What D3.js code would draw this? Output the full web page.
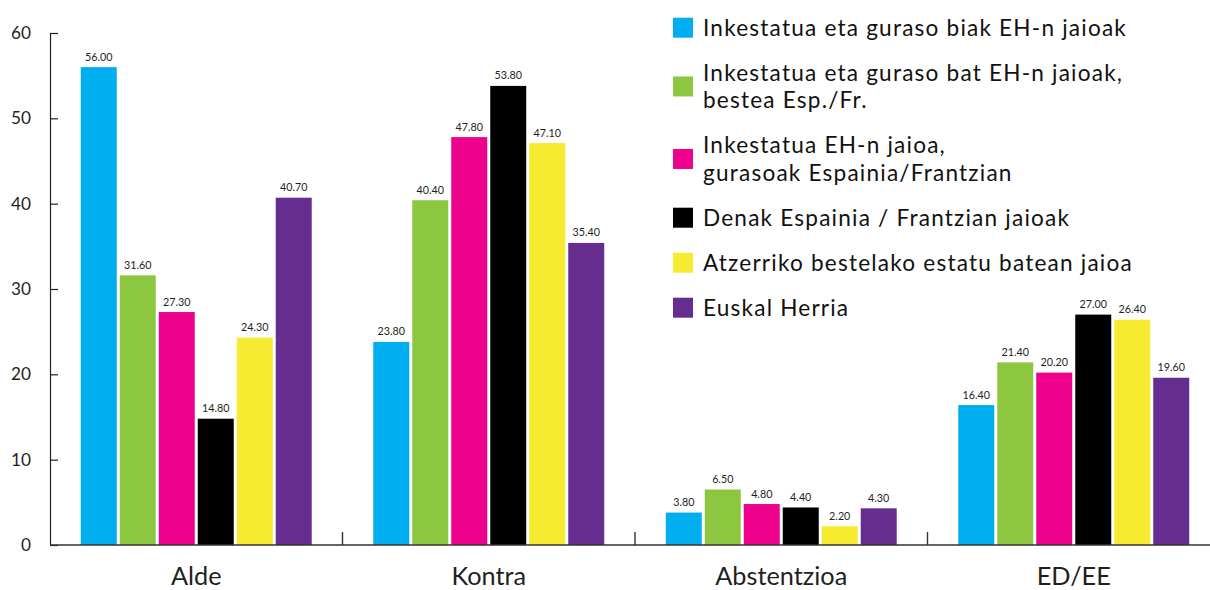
<!DOCTYPE html>
<html>
<head>
<meta charset="utf-8">
<script src="https://cdn.jsdelivr.net/npm/d3@7"></script>
<style>
  html, body { margin: 0; padding: 0; background: #ffffff; }
  svg { display: block; font-family: Lato, "Noto Sans", sans-serif; }
</style>
</head>
<body>
<svg id="chart" width="1210" height="590"></svg>
<script>
// ---- data ----
const categories = ["Alde", "Kontra", "Abstentzioa", "ED/EE"];
const seriesNames = [
  "Inkestatua eta guraso biak EH-n jaioak",
  "Inkestatua eta guraso bat EH-n jaioak,\nbestea Esp./Fr.",
  "Inkestatua EH-n jaioa,\ngurasoak Espainia/Frantzian",
  "Denak Espainia / Frantzian jaioak",
  "Atzerriko bestelako estatu batean jaioa",
  "Euskal Herria"
];
const seriesColors = ["#00aeef", "#8dc63f", "#ec008c", "#000000", "#f6eb31", "#662d91"];
const valsBiakEH     = [56.0, 23.8, 3.8, 16.4];
const valsBatEH      = [31.6, 40.4, 6.5, 21.4];
const valsInkEH      = [27.3, 47.8, 4.8, 20.2];
const valsDenakEsp   = [14.8, 53.8, 4.4, 27.0];
const valsAtzerri    = [24.3, 47.1, 2.2, 26.4];
const valsEuskalH    = [40.7, 35.4, 4.3, 19.6];
const seriesValues = [valsBiakEH, valsBatEH, valsInkEH, valsDenakEsp, valsAtzerri, valsEuskalH];
const yTicks = [0, 10, 20, 30, 40, 50, 60];

// ---- layout ----
const svg = d3.select("#chart");
const textColor = "#231f20";
const plotLeft = 50, plotRight = 1220, plotBottom = 545, plotTop = 33;

const y = d3.scaleLinear().domain([0, 60]).range([plotBottom, plotTop]);
const x0 = d3.scaleBand().domain(categories).range([plotLeft, plotRight]).padding(0);
const groupW = x0.bandwidth();
const x1 = d3.scaleBand().domain(d3.range(seriesNames.length))
  .range([groupW * 0.1052, groupW * 0.8948]).paddingInner(0.077).paddingOuter(0);

// font fitting helpers
function measure(str, size) {
  const t = svg.append("text").attr("font-size", size).text(str);
  const w = t.node().getComputedTextLength();
  t.remove();
  return w;
}
function fitSize(str, targetWidth, base) {
  return base * targetWidth / measure(str, base);
}
const valueFont = fitSize("53.80", 27.5, 11);
const tickFont = fitSize("60", 20, 18);
const catFont = fitSize("Abstentzioa", 132, 22);
const legFont = 22.6;
const legRefW = measure(seriesNames[0], legFont);
const legSpacing = Math.max(0, (424 - legRefW) / seriesNames[0].length);

// bars
const groups = svg.append("g").selectAll("g").data(categories).join("g")
  .attr("transform", d => `translate(${x0(d)},0)`);

groups.each(function(cat, ci) {
  const g = d3.select(this);
  const items = seriesValues.map((vals, si) => ({ si, v: vals[ci] }));
  g.selectAll("rect").data(items).join("rect")
    .attr("x", d => x1(d.si))
    .attr("width", x1.bandwidth())
    .attr("y", d => y(d.v))
    .attr("height", d => y(0) - y(d.v))
    .attr("fill", d => seriesColors[d.si]);
  g.selectAll("text.val").data(items).join("text")
    .attr("class", "val")
    .attr("x", d => x1(d.si) + x1.bandwidth() / 2)
    .attr("y", d => y(d.v) - 6.5)
    .attr("text-anchor", "middle")
    .attr("font-size", valueFont)
    .attr("fill", textColor)
    .text(d => d.v.toFixed(2));
});

// y axis
const yAxis = d3.axisLeft(y).tickValues(yTicks).tickSize(-8).tickPadding(0).tickSizeOuter(0);
const yg = svg.append("g").attr("transform", `translate(${plotLeft},0)`).call(yAxis);
yg.select(".domain").attr("stroke", textColor).attr("stroke-width", 1.2);
yg.selectAll(".tick line").attr("stroke", textColor).attr("stroke-width", 1.2);
yg.selectAll(".tick text")
  .attr("x", -19)
  .attr("font-size", tickFont)
  .attr("font-family", "Lato, 'Noto Sans', sans-serif")
  .attr("fill", textColor);

// x axis line
svg.append("line")
  .attr("x1", plotLeft).attr("x2", plotRight)
  .attr("y1", y(0)).attr("y2", y(0))
  .attr("stroke", "#3a3032").attr("stroke-width", 1.6);

// group separator ticks
svg.append("g").selectAll("line").data(categories.slice(1)).join("line")
  .attr("x1", d => x0(d)).attr("x2", d => x0(d))
  .attr("y1", y(0)).attr("y2", y(0) - 13)
  .attr("stroke", "#3a3032").attr("stroke-width", 1.4);

// category labels
svg.append("g").selectAll("text").data(categories).join("text")
  .attr("x", d => x0(d) + groupW / 2)
  .attr("y", 585)
  .attr("text-anchor", "middle")
  .attr("font-size", catFont)
  .attr("fill", textColor)
  .text(d => d);

// legend
const legX = 673, legTextX = 703, lineH = Math.max(27.5, legFont * 1.21), paraGap = 45;
let baseline = 35.7;
const leg = svg.append("g");
seriesNames.forEach((name, i) => {
  const lines = name.split("\n");
  const first = baseline;
  const last = first + (lines.length - 1) * lineH;
  const center = (first + last) / 2 - 8;
  leg.append("rect")
    .attr("x", legX).attr("y", center - 10)
    .attr("width", 20).attr("height", 20)
    .attr("fill", seriesColors[i]);
  lines.forEach((ln, li) => {
    leg.append("text")
      .attr("x", legTextX).attr("y", first + li * lineH)
      .attr("font-size", legFont)
      .attr("letter-spacing", legSpacing)
      .attr("fill", "#111111")
      .text(ln);
  });
  baseline = last + paraGap;
});
</script>
</body>
</html>
